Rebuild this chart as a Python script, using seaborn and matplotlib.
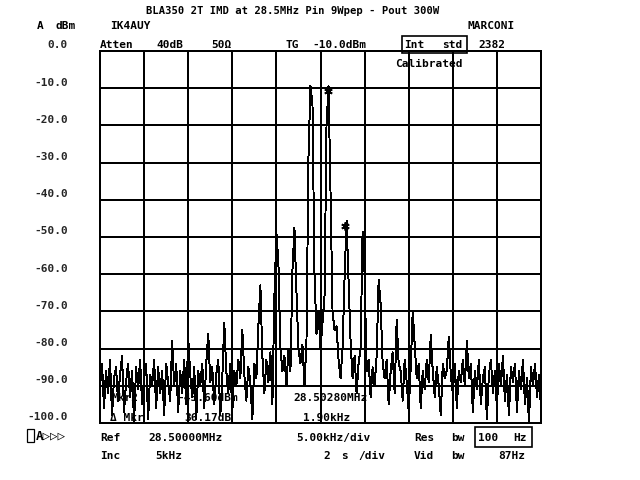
import numpy as np
import pandas as pd
import matplotlib
matplotlib.use("Agg")
import matplotlib.pyplot as plt
import seaborn as sns
from matplotlib.transforms import ScaledTranslation
from matplotlib.patches import Rectangle

# ---------------- data ----------------
center_mhz = 28.5
span_khz = 50.0
div_khz = 5.0
ref_dbm = 0.0
range_db = 100.0

# trace levels (dBm), one sample per ~0.227 kHz across the 50 kHz span
level_dbm = (
    [-90, -84, -96, -86, -92, -83, -98, -88, -85, -94, -87, -82, -97, -89, -84, -93, -86, -100, -85, -91,
     -83, -95, -88, -84, -99, -87, -90, -83, -96, -85, -92, -86, -98, -84, -89, -94]
    + [-78, -90]                                  # IM17 low
    + [-84, -97, -86, -92, -83, -95]
    + [-77, -87]                                  # IM15 low
    + [-93, -85, -99, -86, -90, -84, -96]
    + [-84, -76, -89]                             # IM13 low
    + [-85, -95, -87, -83, -98, -88]
    + [-73, -86]                                  # IM11 low
    + [-92, -84, -97, -86, -90, -83, -88]
    + [-75, -87]                                  # IM9 low
    + [-94, -85, -89, -99, -84, -88]
    + [-74, -63, -82]                             # IM7 low
    + [-92, -83, -89, -81, -95]
    + [-66, -49, -57, -80, -86]                   # IM5 low
    + [-82, -90, -80]
    + [-86, -59, -47.5, -64.7, -80]               # IM3 low
    + [-84, -79, -90, -78]
    + [-28.4, -9.4, -14.5, -60]                   # tone 1
    + [-76, -70, -80, -73]
    + [-66, -20, -9.43, -38]                      # tone 2
    + [-70, -75, -74, -83, -88, -80]
    + [-61, -45.6, -61.6, -78]                    # IM3 high
    + [-88, -82, -92, -84]
    + [-80, -48.6, -60]                           # IM5 high
    + [-86, -83, -93, -85, -90, -82]
    + [-61.6, -68, -84]                           # IM7 high
    + [-88, -83, -95, -86, -81, -92]
    + [-72.3, -84]                                # IM9 high
    + [-86, -94, -83, -89, -97, -85]
    + [-70, -79]                                  # IM11 high
    + [-88, -84, -96, -86, -91, -83, -89]
    + [-76.3, -86]                                # IM13 high
    + [-93, -85, -90, -98, -84, -88, -86]
    + [-76.8, -87]                                # IM15 high
    + [-92, -84, -96, -86, -89, -83, -90]
    + [-78, -88]                                  # IM17 high
    + [-84, -97, -86, -91, -83, -95, -88, -85, -99, -87,
       -83, -92, -86, -96, -84, -90, -82, -94, -87, -98,
       -85, -89, -84, -97, -86, -91, -83, -95, -88, -100,
       -85, -90, -84, -93, -87, -96]
)

marker_freq_mhz = [28.50090, 28.50280]
marker_level_dbm = [-9.43, -45.60]

y_ticks = [0, -10, -20, -30, -40, -50, -60, -70, -80, -90, -100]
y_tick_labels = ["0.0", "-10.0", "-20.0", "-30.0", "-40.0", "-50.0",
                 "-60.0", "-70.0", "-80.0", "-90.0", "-100.0"]

title_text = "BLA350 2T IMD at 28.5MHz Pin 9Wpep - Pout 300W"

# ---------------- style ----------------
sns.set_theme(style="white")
plt.rcParams['font.family'] = ['DejaVu Sans Mono', 'DejaVu Sans']
plt.rcParams['font.weight'] = 'bold'
FAM = ['DejaVu Sans Mono', 'DejaVu Sans']
FS = 8.0

fig = plt.figure(figsize=(6.4, 4.8), dpi=100)
fig.patch.set_facecolor('white')
ax = fig.add_axes([100 / 640, 1 - 423 / 480, 441 / 640, 372 / 480])
ax.set_facecolor('white')

f0 = center_mhz - span_khz / 2000.0
f1 = center_mhz + span_khz / 2000.0
freq = np.linspace(f0, f1, len(level_dbm))
df = pd.DataFrame({"freq": freq, "level": level_dbm})

sns.lineplot(data=df, x="freq", y="level", ax=ax, color="black",
             linewidth=0.7, estimator=None, sort=False, zorder=3,
             antialiased=False)

# markers (asterisks)
off = ScaledTranslation(0, -5 / 100, fig.dpi_scale_trans)
ax.plot(marker_freq_mhz, marker_level_dbm, linestyle='none', marker=(6, 2, 0),
        markersize=6, markeredgewidth=1.3, color='black', zorder=4,
        transform=ax.transData + off)

ax.set_xlim(f0, f1)
ax.set_ylim(ref_dbm - range_db, ref_dbm)
ax.set_xticks(np.linspace(f0, f1, int(span_khz / div_khz) + 1))
ax.set_yticks(y_ticks)
ax.set_yticklabels(y_tick_labels, fontsize=FS, fontweight='bold', family=FAM)
ax.tick_params(axis='x', length=0, labelbottom=False)
ax.tick_params(axis='y', length=0, pad=23)
ax.set_xlabel('')
ax.set_ylabel('')
ax.grid(True, color='black', linewidth=1.3, antialiased=False)
for s in ax.spines.values():
    s.set_color('black')
    s.set_linewidth(1.3)
    s.set_antialiased(False)
lift = ScaledTranslation(0, 6.5 / 100, fig.dpi_scale_trans)
for lbl in ax.get_yticklabels():
    lbl.set_transform(lbl.get_transform() + lift)


def put(x, y, s, size=FS, ha='left'):
    fig.text(x / 640, 1 - (y + 4) / 480, s, ha=ha, va='baseline', fontsize=size,
             fontweight='bold', family=FAM, color='black', zorder=5)


put(293, 10, title_text, size=7.6, ha='center')
put(37, 25, "A")
put(56, 25, "dBm")
put(110, 25, "IK4AUY")
put(468, 25, "MARCONI")
put(100, 44, "Atten")
put(156, 44, "40dB")
put(211, 44, "50Ω")
put(285, 44, "TG")
put(312, 44, "-10.0dBm")
put(404, 44, "Int")
put(442, 44, "std")
put(478, 44, "2382")
put(395, 63, "Calibrated")

put(111, 397, "Mkr2")
put(177, 397, "-45.60dBm")
put(293, 397, "28.50280MHz")
put(110, 417, "Δ Mkr")
put(184, 417, "36.17dB")
put(303, 417, "1.90kHz")

put(36, 435, "A▷▷▷", size=9)
put(100, 437, "Ref")
put(148, 437, "28.50000MHz")
put(296, 437, "5.00kHz/div")
put(414, 437, "Res")
put(451, 437, "bw")
put(478, 437, "100")
put(513, 437, "Hz")
put(100, 455, "Inc")
put(155, 455, "5kHz")
put(323, 455, "2")
put(341, 455, "s")
put(358, 455, "/div")
put(414, 455, "Vid")
put(451, 455, "bw")
put(498, 455, "87Hz")

for (x0, y0, x1, y1, lw) in [(402, 36, 467, 53, 1.2), (475, 427, 532, 447, 1.2),
                             (27, 429, 34, 442, 0.9)]:
    fig.add_artist(Rectangle((x0 / 640, 1 - y1 / 480), (x1 - x0) / 640, (y1 - y0) / 480,
                             transform=fig.transFigure, fill=False,
                             edgecolor='black', linewidth=lw))

fig.savefig("out.png", dpi=100, facecolor='white')
